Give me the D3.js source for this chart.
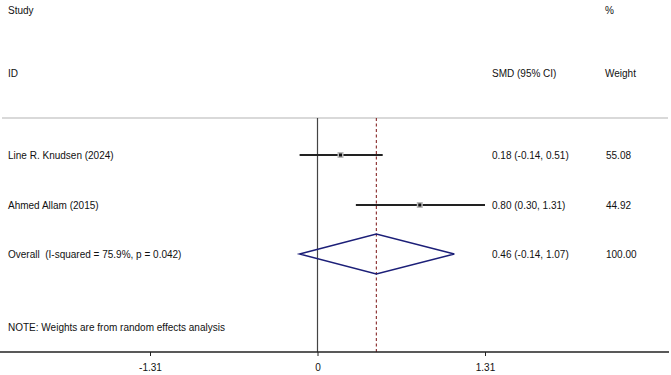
<!DOCTYPE html>
<html>
<head>
<meta charset="utf-8">
<script src="https://cdn.jsdelivr.net/npm/d3@7"></script>
<style>
  body { margin: 0; background: #fff; }
  text { font-family: "Liberation Sans", Arial, sans-serif; font-size: 10px; fill: #111; white-space: pre; }
</style>
</head>
<body>
<script>
// study data
var studies = ["Line R. Knudsen (2024)", "Ahmed Allam (2015)"];
var smd = [0.18, 0.80];
var lower = [-0.14, 0.30];
var upper = [0.51, 1.31];
var weights = ["55.08", "44.92"];

var overallLabel = "Overall  (I-squared = 75.9%, p = 0.042)";
var overall = [0.46, -0.14, 1.07]; // est, lo, hi
var overallWeight = "100.00";

var tickVals = [-1.31, 0, 1.31];

var W = 671, H = 375;

var svg = d3.select("body").append("svg")
  .attr("width", W)
  .attr("height", H);

var x = d3.scaleLinear().domain([-1.31, 1.31]).range([150, 485]);
var rowY = [155, 205, 254];
var axisY = 352, topY = 118;

function fmt(v) { return v.toFixed(2); }

// headers
svg.append("text").attr("x", 8).attr("y", 14).text("Study");
svg.append("text").attr("x", 605).attr("y", 14).text("%");
svg.append("text").attr("x", 8).attr("y", 77).text("ID");
svg.append("text").attr("x", 492).attr("y", 77).text("SMD (95% CI)");
svg.append("text").attr("x", 605).attr("y", 77).text("Weight");

// top grey rule
svg.append("line")
  .attr("x1", 2).attr("x2", 668)
  .attr("y1", topY).attr("y2", topY)
  .attr("stroke", "#cccccc").attr("stroke-width", 1.5);

// null line
svg.append("line")
  .attr("x1", x(0)).attr("x2", x(0))
  .attr("y1", topY).attr("y2", axisY)
  .attr("stroke", "#444").attr("stroke-width", 1.2);

// overall dashed line
svg.append("line")
  .attr("x1", x(overall[0])).attr("x2", x(overall[0]))
  .attr("y1", topY).attr("y2", axisY)
  .attr("stroke", "#7a1010").attr("stroke-width", 1)
  .attr("stroke-dasharray", "3,2.5");

// study rows
for (var i = 0; i < studies.length; i++) {
  var y = rowY[i];
  svg.append("text").attr("x", 8).attr("y", y + 4).text(studies[i]);
  svg.append("line")
    .attr("x1", x(lower[i])).attr("x2", x(upper[i]))
    .attr("y1", y).attr("y2", y)
    .attr("stroke", "#222").attr("stroke-width", 1.8);
  svg.append("rect")
    .attr("x", x(smd[i]) - 3).attr("y", y - 3)
    .attr("width", 6).attr("height", 6)
    .attr("fill", "#bbb");
  svg.append("rect")
    .attr("x", x(smd[i]) - 1.5).attr("y", y - 1.5)
    .attr("width", 3).attr("height", 3)
    .attr("fill", "#111");
  svg.append("text").attr("x", 492).attr("y", y + 4)
    .text(fmt(smd[i]) + " (" + fmt(lower[i]) + ", " + fmt(upper[i]) + ")");
  svg.append("text").attr("x", 606).attr("y", y + 4).text(weights[i]);
}

// overall diamond
var oy = rowY[2];
var dpts = [[x(overall[1]), oy], [x(overall[0]), oy - 20], [x(overall[2]), oy], [x(overall[0]), oy + 20]];
svg.append("path")
  .attr("d", d3.line()(dpts) + "Z")
  .attr("fill", "none")
  .attr("stroke", "#1c1f78").attr("stroke-width", 1.5);
svg.append("text").attr("x", 8).attr("y", oy + 4).text(overallLabel);
svg.append("text").attr("x", 492).attr("y", oy + 4)
  .text(fmt(overall[0]) + " (" + fmt(overall[1]) + ", " + fmt(overall[2]) + ")");
svg.append("text").attr("x", 606).attr("y", oy + 4).text(overallWeight);

// note
svg.append("text").attr("x", 8).attr("y", 331).text("NOTE: Weights are from random effects analysis");

// x axis
var axis = svg.append("g").attr("transform", "translate(0," + axisY + ")")
  .call(d3.axisBottom(x).tickValues(tickVals).tickSize(4).tickPadding(8)
    .tickFormat(function(d) { return d === 0 ? "0" : d.toFixed(2); }));
axis.select(".domain").remove();
axis.selectAll("line").attr("stroke", "#222");
axis.selectAll("text").attr("font-size", 10).attr("font-family", "Liberation Sans, Arial, sans-serif").attr("fill", "#111");
svg.append("line")
  .attr("x1", 0).attr("x2", 669)
  .attr("y1", axisY).attr("y2", axisY)
  .attr("stroke", "#222").attr("stroke-width", 1.5);
</script>
</body>
</html>
